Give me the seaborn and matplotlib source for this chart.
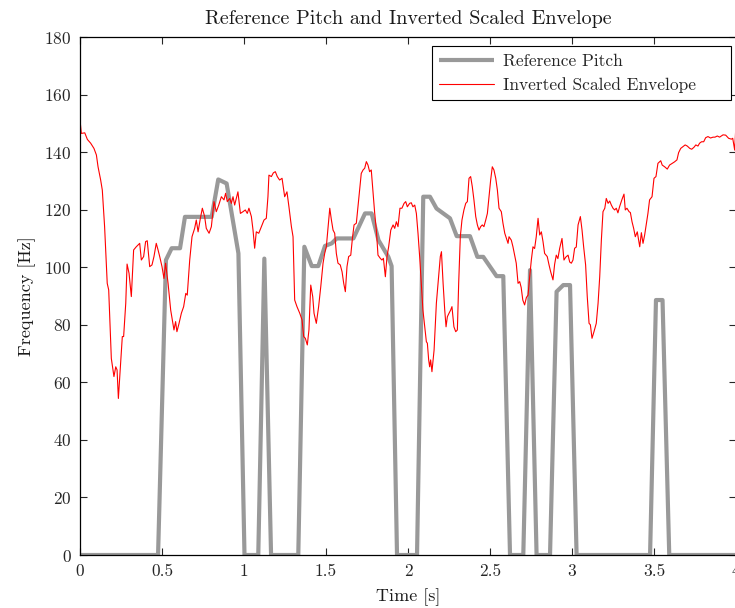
import numpy as np
import pandas as pd
import matplotlib
matplotlib.use("Agg")
import matplotlib.pyplot as plt
import seaborn as sns

# ---------------- data ----------------
pitch_t = [0, 0.476, 0.524, 0.559, 0.61, 0.64, 0.803, 0.843, 0.894, 0.966, 1.003,
           1.087, 1.124, 1.165, 1.331, 1.368, 1.413, 1.453, 1.494, 1.535, 1.565,
           1.667, 1.738, 1.778, 1.82, 1.88, 1.90, 1.933, 2.055, 2.093, 2.134,
           2.174, 2.256, 2.297, 2.378, 2.423, 2.459, 2.54, 2.581, 2.622, 2.703,
           2.744, 2.784, 2.866, 2.906, 2.947, 2.988, 3.028, 3.476, 3.512, 3.552,
           3.593, 4.0]
pitch_f = [0, 0, 102.5, 106.6, 106.6, 117.5, 117.5, 130.5, 129.1, 104.8, 0,
           0, 103, 0, 0, 107.1, 100.4, 100.4, 107.4, 108.3, 110,
           110, 118.7, 118.7, 109.4, 103.6, 100.4, 0, 0, 124.5, 124.5,
           120.4, 117, 110.8, 110.8, 103.6, 103.6, 96.9, 96.9, 0, 0,
           99, 0, 0, 91.5, 93.8, 93.8, 0, 0, 88.6, 88.6,
           0, 0]

env_t = [0.0, 0.008, 0.029, 0.045, 0.065, 0.085, 0.1, 0.11, 0.126, 0.136, 0.15, 0.166,
         0.175, 0.191, 0.207, 0.218, 0.226, 0.234, 0.248, 0.258, 0.266, 0.279, 0.287,
         0.299, 0.313, 0.327, 0.343, 0.364, 0.374, 0.388, 0.4, 0.41, 0.425, 0.439,
         0.451, 0.465, 0.476, 0.486, 0.5, 0.512, 0.522, 0.537, 0.553, 0.563, 0.573,
         0.583, 0.591, 0.604, 0.618, 0.632, 0.645, 0.654, 0.669, 0.683, 0.699, 0.709,
         0.72, 0.734, 0.746, 0.76, 0.77, 0.787, 0.801, 0.817, 0.831, 0.846, 0.862,
         0.878, 0.888, 0.898, 0.913, 0.923, 0.933, 0.943, 0.963, 0.978, 0.994, 1.008,
         1.02, 1.03, 1.045, 1.055, 1.065, 1.075, 1.09, 1.106, 1.122, 1.136, 1.146,
         1.152, 1.167, 1.179, 1.191, 1.203, 1.217, 1.232, 1.248, 1.262, 1.274, 1.289,
         1.299, 1.309, 1.323, 1.34, 1.354, 1.364, 1.374, 1.386, 1.396, 1.407, 1.419,
         1.427, 1.441, 1.455, 1.468, 1.482, 1.492, 1.502, 1.512, 1.523, 1.533, 1.543,
         1.553, 1.563, 1.573, 1.587, 1.598, 1.608, 1.618, 1.628, 1.638, 1.651, 1.661,
         1.671, 1.685, 1.695, 1.705, 1.715, 1.726, 1.736, 1.746, 1.756, 1.766, 1.776,
         1.787, 1.797, 1.807, 1.817, 1.831, 1.841, 1.85, 1.862, 1.872, 1.882, 1.895,
         1.909, 1.919, 1.929, 1.939, 1.951, 1.963, 1.976, 1.986, 1.996, 2.01, 2.02,
         2.03, 2.041, 2.051, 2.061, 2.071, 2.081, 2.091, 2.102, 2.112, 2.118, 2.126,
         2.132, 2.138, 2.146, 2.159, 2.173, 2.187, 2.197, 2.204, 2.214, 2.224, 2.232,
         2.24, 2.25, 2.26, 2.268, 2.28, 2.291, 2.301, 2.309, 2.319, 2.329, 2.341,
         2.352, 2.362, 2.372, 2.382, 2.392, 2.402, 2.413, 2.423, 2.433, 2.443, 2.453,
         2.463, 2.474, 2.484, 2.494, 2.504, 2.514, 2.524, 2.535, 2.545, 2.555, 2.569,
         2.579, 2.59, 2.6, 2.61, 2.616, 2.63, 2.64, 2.65, 2.66, 2.671, 2.681, 2.69,
         2.7, 2.711, 2.722, 2.732, 2.742, 2.752, 2.762, 2.772, 2.782, 2.793, 2.803,
         2.813, 2.823, 2.833, 2.849, 2.86, 2.87, 2.884, 2.894, 2.904, 2.914, 2.925,
         2.939, 2.951, 2.962, 2.976, 2.986, 2.996, 3.006, 3.016, 3.026, 3.037, 3.051,
         3.061, 3.071, 3.083, 3.093, 3.104, 3.112, 3.122, 3.134, 3.148, 3.159, 3.169,
         3.179, 3.189, 3.2, 3.209, 3.22, 3.23, 3.24, 3.25, 3.26, 3.27, 3.28, 3.29,
         3.305, 3.317, 3.325, 3.335, 3.348, 3.356, 3.366, 3.376, 3.386, 3.398, 3.413,
         3.423, 3.433, 3.443, 3.453, 3.463, 3.473, 3.488, 3.5, 3.512, 3.524, 3.541,
         3.55, 3.565, 3.581, 3.595, 3.612, 3.625, 3.64, 3.65, 3.663, 3.677, 3.69,
         3.703, 3.718, 3.73, 3.744, 3.755, 3.768, 3.778, 3.79, 3.803, 3.815, 3.829,
         3.845, 3.86, 3.872, 3.886, 3.9, 3.921, 3.937, 3.955, 3.972, 3.98, 3.992, 4.0]
env_f = [151.2, 146.5, 146.7, 144.4, 143.1, 141.3, 139, 134.9, 130.3, 126.8, 114.1, 94.4,
         92.1, 68.3, 62, 65.4, 64.3, 54.4, 66.6, 75.9, 75.9, 87.5, 101.1,
         97.9, 89.8, 106, 107.1, 108.3, 102.5, 103.7, 108.9, 109.2, 100.2, 100.8,
         103.7, 108.3, 106, 103.7, 100.2, 96.1, 101.4, 94.4, 85.1, 81.7, 78.2,
         81.1, 77.6, 80.5, 84, 86.3, 90.9, 90.3, 102.5, 110.6, 113.5, 116.4,
         112.3, 117, 120.5, 117.6, 113.5, 111.8, 114.1, 122.8, 119.3, 121.6, 124.5,
         123.4, 125.7, 122.8, 123.9, 122.2, 124.5, 121.6, 126.2, 118.7, 119.3, 119.9,
         118.7, 120.5, 117.6, 112.9, 106.6, 112.3, 111.8, 114.1, 116.4, 117, 124.5,
         132, 131.5, 132.8, 133.2, 131.5, 130.3, 130.9, 124.5, 126.2, 121, 114.1,
         110.6, 88.6, 86.3, 84, 81.7, 75.9, 75.3, 73, 78.2, 93.8, 89.8,
         84, 80.5, 86.3, 93.2, 101.4, 104.8, 107.1, 113.5, 120.5, 116.4, 112.9,
         111.8, 104.8, 101.4, 100.8, 98.4, 94.4, 91.5, 100.2, 103.7, 104.2, 110,
         114.7, 115.3, 121, 126.8, 132.6, 133.8, 134.4, 136.7, 135.5, 133.2, 133.8,
         125.7, 118.7, 112.9, 104.2, 103.1, 102.5, 103.1, 96.7, 103.7, 107.1, 112.9,
         114.7, 113.5, 115.8, 114.1, 120.5, 120.5, 122.2, 122.8, 121, 122.2, 122.4,
         121, 121.6, 118.7, 111.8, 103.7, 94.4, 85.1, 79.3, 74.1, 73.6, 67.8,
         65.4, 67.8, 63.7, 71.2, 87.5, 96.7, 103.7, 105.4, 94.4, 85.1, 79.3,
         82.8, 84, 85.1, 86.3, 79.3, 77.6, 78.2, 94.4, 110.6, 116.4, 119.9,
         122.2, 122.8, 130.9, 131.5, 128, 123.4, 117.6, 114.7, 112.9, 114.1, 114.7,
         114.1, 116.4, 118.7, 124.5, 130.3, 134.9, 133.8, 130.9, 126.8, 120.5, 119.3,
         115.3, 111.8, 110, 108.3, 110.6, 109.4, 107.1, 104.2, 101.4, 94.4, 95, 93,
         88.6, 86.9, 89.5, 90.3, 96.7, 102.5, 107.1, 106.5, 110.6, 117, 111.2,
         112.3, 109, 104.8, 103.7, 100.8, 98.4, 95.6, 101, 104.2, 103, 106.6,
         110, 102.5, 103.5, 104.2, 101.8, 101.4, 102.5, 106.6, 107, 114.7, 117.6,
         113, 107.1, 100.8, 89.8, 80.5, 80, 75.3, 77.6, 80.5, 87.5, 96.7,
         109.4, 119.3, 120.5, 123.9, 122.2, 123, 121.6, 120.5, 119.9, 120.5, 118.9, 121,
         123.6, 125.4, 119.9, 120.5, 119.3, 119, 115.8, 113.5, 110.6, 112.3, 107.1,
         112, 108.3, 111.2, 115, 118.7, 123.4, 124.5, 130.9, 131.5, 136.1, 137,
         135.5, 134.9, 134.1, 135.5, 136.1, 136.6, 137.3, 139.8, 141.3, 141.9, 142.5,
         142.1, 141.3, 141, 141.7, 142.5, 142.1, 143.1, 143.6, 143.6, 145, 145.4,
         144.9, 145.2, 145.2, 145.6, 145.2, 146, 145.9, 144.8, 144.5, 144.8, 140.7, 150]

x_ticks = [0, 0.5, 1, 1.5, 2, 2.5, 3, 3.5, 4]
x_tick_labels = ["0", "0.5", "1", "1.5", "2", "2.5", "3", "3.5", "4"]
y_ticks = [0, 20, 40, 60, 80, 100, 120, 140, 160, 180]

title = "Reference Pitch and Inverted Scaled Envelope"
x_label = "Time [s]"
y_label = "Frequency [Hz]"
series_names = ["Reference Pitch", "Inverted Scaled Envelope"]

# ---------------- style ----------------
sns.set_theme(style="ticks")
plt.rcParams["font.family"] = ["cmr10", "DejaVu Serif"]
plt.rcParams["axes.formatter.use_mathtext"] = True
plt.rcParams["mathtext.fontset"] = "cm"

fig = plt.figure(figsize=(7.35, 6.08), dpi=100)
ax = fig.add_axes([80 / 735, 1 - 555 / 608, 656 / 735, 518 / 608])

pitch_df = pd.DataFrame({"t": pitch_t, "f": pitch_f})
env_df = pd.DataFrame({"t": env_t, "f": env_f})

sns.lineplot(data=pitch_df, x="t", y="f", ax=ax, color="#999999", lw=3.0,
             estimator=None, sort=False, label=series_names[0],
             solid_joinstyle="round", solid_capstyle="butt")
sns.lineplot(data=env_df, x="t", y="f", ax=ax, color="#ff0000", lw=0.8,
             estimator=None, sort=False, label=series_names[1])

ax.set_xlim(0, 4)
ax.set_ylim(0, 180)
ax.set_xticks(x_ticks)
ax.set_xticklabels(x_tick_labels)
ax.set_yticks(y_ticks)
ax.tick_params(direction="in", length=5, width=0.8, labelsize=12.5, color="#262626",
               top=True, right=True, pad=6, labelcolor="#262626")
for sp in ax.spines.values():
    sp.set_visible(True)
    sp.set_linewidth(0.9)
    sp.set_color("black")

ax.set_title(title, fontsize=14.5, pad=9, color="#1a1a1a")
ax.set_xlabel(x_label, fontsize=13, labelpad=7, color="#1a1a1a")
ax.set_ylabel(y_label, fontsize=13, labelpad=6, color="#1a1a1a")

x0 = (432 - 80) / 656
w = (731 - 432) / 656
y1 = (555 - 46) / 518
h = (100 - 46) / 518
leg = ax.legend(loc="upper left", bbox_to_anchor=(x0, y1 - h, w, h), mode="expand",
                borderaxespad=0, fontsize=12.5, frameon=True, fancybox=False,
                handlelength=3.15, handletextpad=0.5, borderpad=0.42, labelspacing=0.5)
leg.get_frame().set_edgecolor("black")
leg.get_frame().set_linewidth(0.8)
leg.get_frame().set_alpha(1)

fig.savefig("out.png", dpi=100)
